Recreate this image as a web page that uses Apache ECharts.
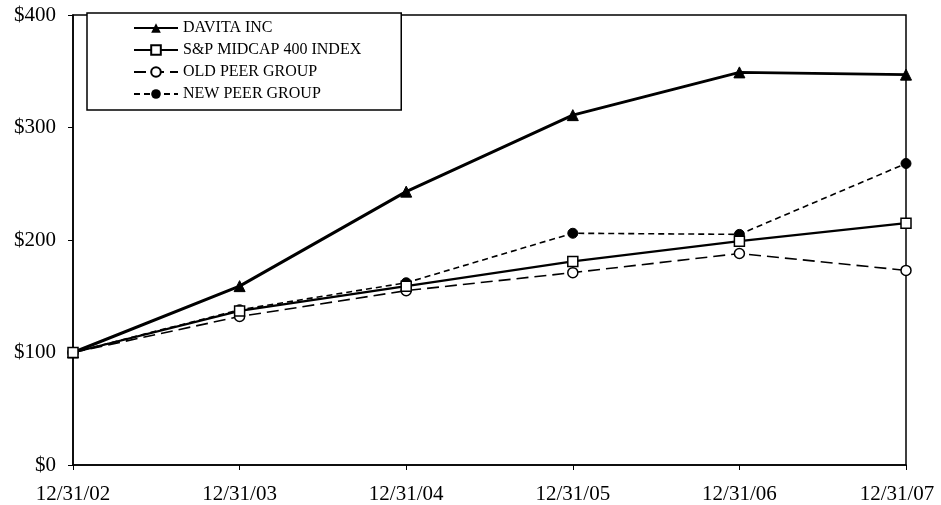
<!DOCTYPE html>
<html>
<head>
<meta charset="utf-8">
<script src="https://cdn.jsdelivr.net/npm/echarts@6/dist/echarts.min.js"></script>
<style>
html,body{margin:0;padding:0;background:#fff;overflow:hidden;}
#chart{width:941px;height:505px;}
</style>
</head>
<body>
<div id="chart"></div>
<script>
var categories = ['12/31/02','12/31/03','12/31/04','12/31/05','12/31/06','12/31/07'];
var davita = [100,159,243,311,349,347];
var spMidcap = [100,137,159,181,199,215];
var oldPeer = [100,132,155,171,188,173];
var newPeer = [100,138,162,206,205,268];
var seriesNames = ['DAVITA INC','S&P MIDCAP 400 INDEX','OLD PEER GROUP','NEW PEER GROUP'];

var font = 'Liberation Serif, Times New Roman, serif';
var xData = categories.map(function(c, i){
  if (i === categories.length - 1) return {value:c, textStyle:{padding:[0,18,0,0]}};
  return c;
});
var chart = echarts.init(document.getElementById('chart'));
chart.setOption({
  animation:false,
  backgroundColor:'#fff',
  grid:{left:73,right:35,top:15,bottom:40,show:true,borderColor:'#000',borderWidth:1.5,containLabel:false,outerBoundsMode:'none'},
  legend:{
    orient:'vertical',left:87,top:13,
    padding:[7,40,8,46],
    borderColor:'#000',borderWidth:1.5,backgroundColor:'#fff',
    itemWidth:44,itemHeight:12,itemGap:6,
    textStyle:{fontFamily:font,fontSize:16,color:'#000',lineHeight:16},
    data:seriesNames
  },
  xAxis:{
    type:'category',data:xData,boundaryGap:false,
    axisLine:{lineStyle:{color:'#000',width:1.5}},
    axisTick:{show:true,alignWithLabel:true,length:5,lineStyle:{color:'#000'}},
    axisLabel:{color:'#000',fontFamily:font,fontSize:21,margin:19}
  },
  yAxis:{
    type:'value',min:0,max:400,interval:100,
    axisLine:{show:true,lineStyle:{color:'#000',width:1.5}},
    axisTick:{show:true,length:5,lineStyle:{color:'#000'}},
    splitLine:{show:false},
    axisLabel:{color:'#000',fontFamily:font,fontSize:21,margin:17,formatter:function(v){return '$'+v;}}
  },
  series:[
    {name:seriesNames[0],type:'line',data:davita,symbol:'triangle',symbolSize:11,
     lineStyle:{color:'#000',width:3},itemStyle:{color:'#000',borderColor:'#000'},z:4},
    {name:seriesNames[1],type:'line',data:spMidcap,symbol:'rect',symbolSize:10,
     lineStyle:{color:'#000',width:2.2},itemStyle:{color:'#fff',borderColor:'#000',borderWidth:1.5},z:5},
    {name:seriesNames[2],type:'line',data:oldPeer,symbol:'circle',symbolSize:10,
     lineStyle:{color:'#000',width:1.6,type:[12,6]},itemStyle:{color:'#fff',borderColor:'#000',borderWidth:1.5},z:3},
    {name:seriesNames[3],type:'line',data:newPeer,symbol:'circle',symbolSize:10,
     lineStyle:{color:'#000',width:1.6,type:[6,4]},itemStyle:{color:'#000',borderColor:'#000'},z:3}
  ]
});
</script>
</body>
</html>
